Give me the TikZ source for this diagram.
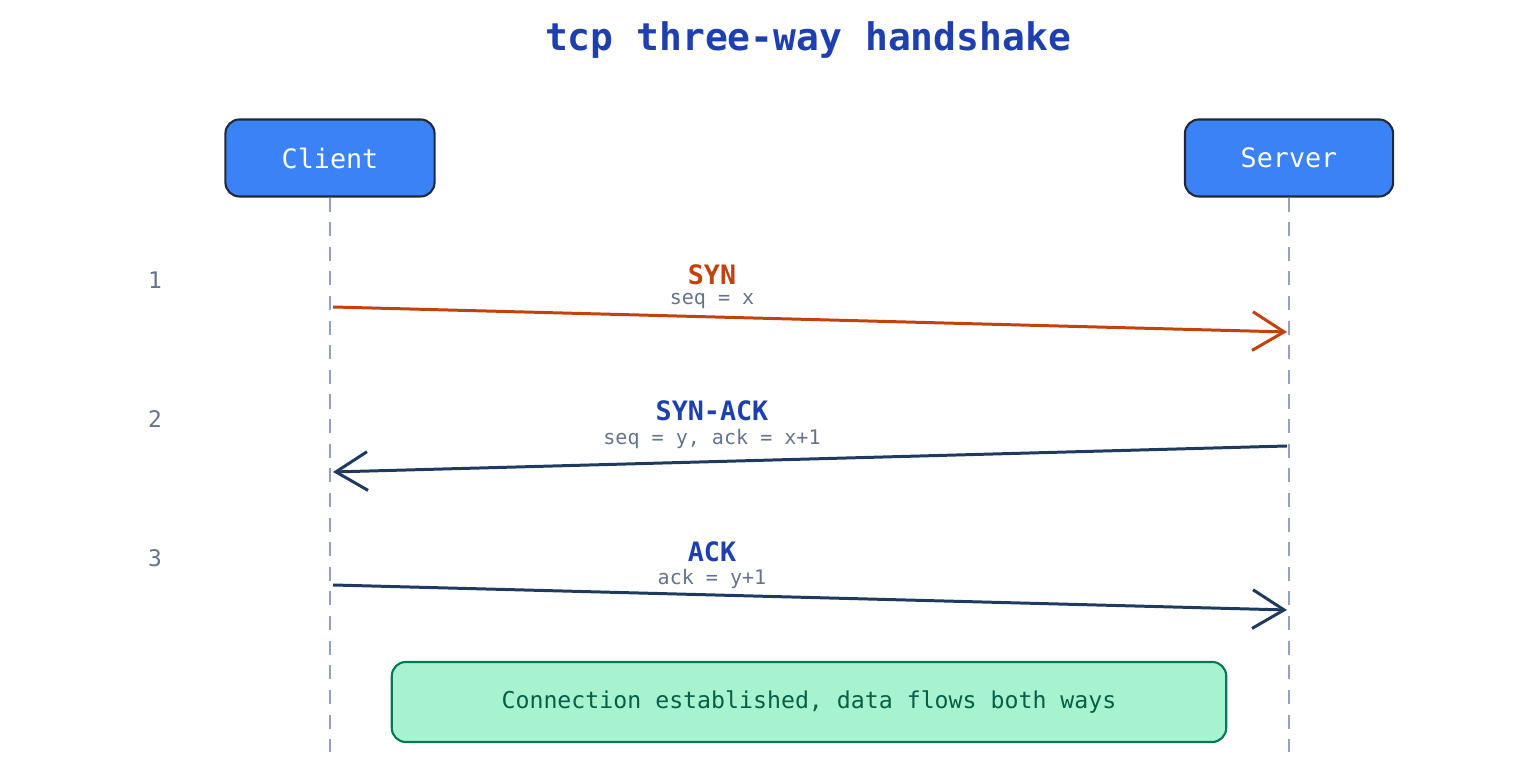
\documentclass[tikz,border=0pt]{standalone}
\usepackage{fontspec}
\setmainfont{DejaVu Sans Mono}
\usetikzlibrary{arrows.meta}
\definecolor{titleblue}{HTML}{1E40AF}
\definecolor{boxblue}{HTML}{3B82F6}
\definecolor{boxline}{HTML}{1E293B}
\definecolor{lifeg}{HTML}{94A3B8}
\definecolor{numg}{HTML}{64748B}
\definecolor{synor}{HTML}{C2410C}
\definecolor{navy}{HTML}{1E3A5F}
\definecolor{greenf}{HTML}{A7F3D0}
\definecolor{greenl}{HTML}{047857}
\definecolor{greent}{HTML}{065F46}
\begin{document}
\begin{tikzpicture}[x=0.01cm,y=-0.01cm,
  actor/.style={draw=boxline,line width=0.6pt,fill=boxblue,rounded corners=4pt,minimum width=209\pgflinewidth,text=white,font=\fontsize{7.6}{9}\selectfont},
  life/.style={draw=lifeg,line width=0.5pt,dash pattern=on 4pt off 3pt},
  num/.style={text=numg,font=\fontsize{6.5}{8}\selectfont},
  msg/.style={line width=0.85pt,-{Straight Barb[length=9pt,width=11pt,line width=0.85pt]}},
  lbl/.style={font=\fontsize{7.6}{9}\selectfont\bfseries},
  sub/.style={text=numg,font=\fontsize{5.7}{7}\selectfont}]
\useasboundingbox (0,0) rectangle (1536,768);
\node[text=titleblue,font=\fontsize{10.8}{13}\selectfont\bfseries] (title) at (808,40) {tcp three-way handshake};
\node[actor,minimum width=2.09cm,minimum height=0.77cm] (client) at (330,158) {Client};
\node[actor,minimum width=2.08cm,minimum height=0.77cm] (server) at (1289,158) {Server};
\coordinate (cend) at (330,752);
\coordinate (send) at (1289,752);
\draw[life] (client.south) -- (cend);
\draw[life] (server.south) -- (send);
\node[num] (n1) at (155,280) {1};
\node[num] (n2) at (155,419) {2};
\node[num] (n3) at (155,558) {3};
\coordinate (a1s) at (333,307); \coordinate (a1e) at (1287,332);
\coordinate (a2s) at (1287,446); \coordinate (a2e) at (333,472);
\coordinate (a3s) at (333,585); \coordinate (a3e) at (1287,610);
\draw[msg,synor] (a1s) -- (a1e);
\draw[msg,navy] (a2s) -- (a2e);
\draw[msg,navy] (a3s) -- (a3e);
\node[lbl,text=synor] (l1) at (712,275) {SYN};
\node[sub] (s1) at (712,301) {seq = x};
\node[lbl,text=titleblue] (l2) at (712,411) {SYN-ACK};
\node[sub] (s2) at (712,439) {seq = y, ack = x+1};
\node[lbl,text=titleblue] (l3) at (712,552) {ACK};
\node[sub] (s3) at (712,579) {ack = y+1};
\node[draw=greenl,line width=0.6pt,fill=greenf,rounded corners=4pt,minimum width=8.34cm,minimum height=0.8cm,text=greent,font=\fontsize{6.6}{8}\selectfont] (est) at (809,702) {Connection established, data flows both ways};
\end{tikzpicture}
\end{document}
